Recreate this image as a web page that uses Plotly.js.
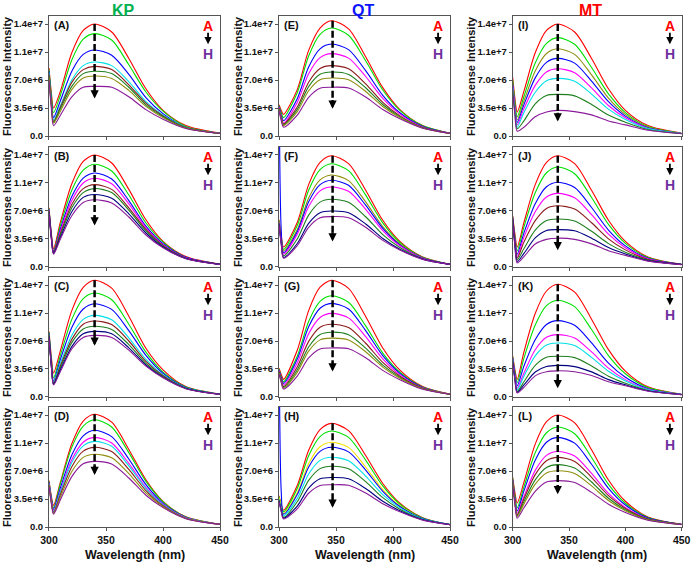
<!DOCTYPE html>
<html>
<head>
<meta charset="utf-8">
<script src="https://cdn.plot.ly/plotly-3.0.1.min.js"></script>
<style>body{margin:0;background:#fff;}</style>
</head>
<body>
<div id="chart" style="width:693px;height:566px;"></div>
<script>
// wavelengths (nm); QT spectra peak a little further right
var wlKP = [300, 302, 304, 310, 320, 330, 340, 355, 370, 385, 400, 420, 450];
var wlQT = [300, 302, 304, 316, 326, 336, 346, 361, 376, 391, 406, 426, 450];
var wlMT = wlKP;

// intensities in units of 1e6, curves A -> H
var panelA = [
  [8.5, 5.5, 3.5, 5.6, 10.4, 13.2, 14.0, 13.0, 9.7, 5.9, 3.2, 1.3, 0.34],
  [8.3, 5.1, 2.9, 5.1, 9.5, 12.1, 12.8, 12.0, 8.9, 5.5, 3.1, 1.2, 0.34],
  [8.1, 4.6, 2.3, 4.4, 8.1, 10.2, 10.75, 10.1, 7.7, 4.8, 2.8, 1.1, 0.33],
  [7.9, 4.4, 2.0, 3.8, 7.0, 8.8, 9.25, 8.8, 6.8, 4.3, 2.6, 1.1, 0.32],
  [7.7, 4.2, 1.8, 3.6, 6.7, 8.3, 8.7, 8.3, 6.4, 4.1, 2.5, 1.05, 0.33],
  [7.5, 4.0, 1.7, 3.4, 6.2, 7.8, 8.1, 7.8, 6.1, 3.9, 2.4, 1.0, 0.32],
  [7.3, 3.9, 1.6, 3.1, 5.8, 7.25, 7.5, 7.2, 5.7, 3.7, 2.3, 1.0, 0.32],
  [7.0, 3.6, 1.3, 2.6, 4.9, 6.1, 6.2, 6.1, 4.9, 3.3, 2.1, 0.95, 0.32]
];
var panelB = [
  [7.4, 4.3, 2.3, 5.6, 10.4, 13.2, 14.0, 13.0, 9.7, 5.9, 3.2, 1.3, 0.34],
  [7.3, 4.1, 2.0, 5.2, 9.6, 12.1, 12.85, 12.0, 9.0, 5.5, 3.1, 1.2, 0.34],
  [7.2, 4.0, 1.9, 4.75, 8.8, 11.1, 11.75, 11.0, 8.3, 5.1, 2.9, 1.2, 0.33],
  [7.1, 3.9, 1.8, 4.5, 8.3, 10.5, 11.1, 10.4, 7.9, 4.9, 2.8, 1.15, 0.33],
  [7.0, 3.9, 1.8, 4.2, 7.8, 9.8, 10.3, 9.7, 7.4, 4.7, 2.7, 1.1, 0.33],
  [6.9, 3.8, 1.7, 4.0, 7.4, 9.3, 9.8, 9.3, 7.1, 4.5, 2.6, 1.1, 0.33],
  [6.8, 3.7, 1.7, 3.7, 6.9, 8.7, 9.07, 8.6, 6.65, 4.25, 2.5, 1.05, 0.33],
  [6.7, 3.6, 1.6, 3.5, 6.4, 8.05, 8.4, 8.0, 6.25, 4.0, 2.4, 1.04, 0.32]
];
var panelC = [
  [8.2, 5.1, 3.0, 5.8, 10.8, 13.7, 14.6, 13.6, 10.1, 6.1, 3.4, 1.3, 0.35],
  [8.1, 4.7, 2.4, 5.2, 9.7, 12.3, 13.0, 12.15, 9.1, 5.6, 3.1, 1.25, 0.35],
  [8.0, 4.4, 2.0, 4.7, 8.7, 11.0, 11.65, 10.95, 8.3, 5.2, 2.95, 1.2, 0.34],
  [7.9, 4.2, 1.8, 4.2, 7.7, 9.7, 10.2, 9.65, 7.4, 4.7, 2.75, 1.14, 0.34],
  [7.8, 4.1, 1.7, 3.9, 7.2, 9.1, 9.5, 9.05, 7.0, 4.45, 2.65, 1.1, 0.34],
  [7.7, 4.0, 1.6, 3.65, 6.8, 8.5, 8.85, 8.45, 6.55, 4.2, 2.55, 1.1, 0.34],
  [7.6, 4.0, 1.6, 3.4, 6.3, 7.9, 8.2, 7.9, 6.15, 4.0, 2.45, 1.06, 0.34],
  [7.5, 3.9, 1.5, 3.2, 6.0, 7.45, 7.7, 7.45, 5.85, 3.85, 2.4, 1.04, 0.33]
];
var panelD = [
  [5.8, 3.9, 2.7, 5.6, 10.4, 13.25, 14.1, 13.1, 9.7, 5.9, 3.2, 1.27, 0.34],
  [5.7, 3.7, 2.4, 5.4, 9.95, 12.6, 13.4, 12.5, 9.3, 5.7, 3.15, 1.25, 0.34],
  [5.6, 3.6, 2.2, 4.9, 9.0, 11.4, 12.1, 11.3, 8.5, 5.3, 2.96, 1.2, 0.33],
  [5.5, 3.4, 2.0, 4.5, 8.4, 10.6, 11.2, 10.5, 7.95, 4.96, 2.84, 1.16, 0.33],
  [5.4, 3.3, 1.9, 4.35, 8.05, 10.15, 10.7, 10.1, 7.65, 4.8, 2.77, 1.13, 0.33],
  [5.3, 3.2, 1.8, 4.06, 7.54, 9.48, 9.96, 9.43, 7.2, 4.55, 2.66, 1.1, 0.33],
  [5.2, 3.1, 1.7, 3.74, 6.93, 8.7, 9.1, 8.66, 6.68, 4.27, 2.54, 1.07, 0.33],
  [5.1, 3.0, 1.6, 3.4, 6.3, 7.9, 8.2, 7.87, 6.13, 3.97, 2.42, 1.04, 0.33]
];
var panelE = [
  [3.9, 3.2, 2.7, 5.8, 10.7, 13.5, 14.4, 13.4, 9.9, 6.05, 3.3, 1.3, 0.35],
  [3.8, 2.9, 2.3, 5.4, 10.0, 12.7, 13.5, 12.6, 9.4, 5.75, 3.2, 1.27, 0.34],
  [3.7, 2.6, 1.9, 4.66, 8.63, 10.9, 11.5, 10.8, 8.17, 5.09, 2.91, 1.19, 0.34],
  [3.6, 2.4, 1.6, 4.2, 7.78, 9.8, 10.3, 9.74, 7.44, 4.7, 2.74, 1.14, 0.34],
  [3.5, 2.3, 1.5, 3.63, 6.73, 8.44, 8.8, 8.4, 6.52, 4.2, 2.52, 1.07, 0.33],
  [3.4, 2.2, 1.4, 3.33, 6.18, 7.71, 8.0, 7.7, 6.03, 3.94, 2.42, 1.04, 0.33],
  [3.3, 2.1, 1.3, 3.04, 5.66, 7.03, 7.25, 7.03, 5.57, 3.69, 2.31, 1.01, 0.33],
  [3.2, 1.9, 1.1, 2.61, 4.84, 5.98, 6.1, 6.0, 4.87, 3.31, 2.15, 0.97, 0.33]
];
var panelF = [
  [5.9, 3.9, 2.5, 5.56, 10.3, 13.07, 13.9, 12.93, 9.6, 5.84, 3.2, 1.25, 0.33],
  [5.8, 3.6, 2.2, 5.18, 9.59, 12.16, 12.9, 12.04, 8.98, 5.51, 3.06, 1.21, 0.33],
  [5.7, 3.5, 2.0, 4.65, 8.61, 10.88, 11.5, 10.8, 8.13, 5.05, 2.87, 1.16, 0.33],
  [25, 4.5, 1.8, 4.4, 8.15, 10.29, 10.85, 10.21, 7.73, 4.83, 2.77, 1.13, 0.33],
  [5.6, 3.2, 1.6, 4.08, 7.56, 9.52, 10.0, 9.46, 7.21, 4.55, 2.65, 1.1, 0.33],
  [5.5, 3.0, 1.4, 3.49, 6.48, 8.11, 8.46, 8.09, 6.28, 4.04, 2.44, 1.03, 0.32],
  [5.4, 2.9, 1.2, 2.94, 5.46, 6.79, 7.0, 6.79, 5.38, 3.56, 2.23, 0.98, 0.32],
  [5.3, 2.8, 1.1, 2.67, 4.96, 6.15, 6.3, 6.16, 4.96, 3.33, 2.13, 0.95, 0.32]
];
var panelG = [
  [3.6, 2.8, 2.2, 5.84, 10.8, 13.72, 14.6, 13.58, 10.07, 6.13, 3.36, 1.31, 0.35],
  [3.5, 2.5, 1.9, 5.1, 9.44, 11.95, 12.65, 11.84, 8.89, 5.49, 3.09, 1.24, 0.34],
  [3.4, 2.4, 1.7, 4.74, 8.78, 11.09, 11.7, 11.0, 8.3, 5.17, 2.95, 1.2, 0.34],
  [3.3, 2.2, 1.5, 4.26, 7.9, 9.94, 10.45, 9.89, 7.54, 4.76, 2.77, 1.15, 0.34],
  [3.2, 2.1, 1.3, 3.75, 6.95, 8.72, 9.1, 8.68, 6.72, 4.32, 2.59, 1.1, 0.34],
  [3.1, 2.0, 1.2, 3.37, 6.25, 7.81, 8.1, 7.79, 6.11, 3.99, 2.45, 1.06, 0.33],
  [3.0, 1.9, 1.1, 3.08, 5.74, 7.14, 7.36, 7.13, 5.66, 3.74, 2.34, 1.02, 0.34],
  [2.9, 1.8, 1.0, 2.62, 4.88, 6.01, 6.13, 6.04, 4.91, 3.33, 2.17, 0.97, 0.34]
];
var panelH = [
  [3.9, 2.8, 2.1, 5.18, 9.59, 12.18, 12.96, 12.05, 8.94, 5.44, 2.98, 1.17, 0.31],
  [3.8, 2.7, 1.9, 4.82, 8.92, 11.31, 12.0, 11.2, 8.36, 5.13, 2.85, 1.13, 0.31],
  [3.7, 2.5, 1.7, 4.29, 7.93, 10.03, 10.6, 9.95, 7.5, 4.66, 2.65, 1.07, 0.3],
  [25, 4.3, 1.6, 4.05, 7.5, 9.46, 9.97, 9.39, 7.12, 4.46, 2.56, 1.05, 0.31],
  [3.5, 2.2, 1.4, 3.57, 6.62, 8.33, 8.72, 8.28, 6.36, 4.04, 2.39, 0.99, 0.3],
  [3.4, 2.1, 1.2, 3.15, 5.83, 7.3, 7.6, 7.28, 5.67, 3.67, 2.23, 0.95, 0.3],
  [3.3, 2.0, 1.1, 2.62, 4.85, 6.02, 6.19, 6.03, 4.81, 3.21, 2.03, 0.9, 0.3],
  [3.2, 1.9, 1.0, 2.26, 4.22, 5.19, 5.28, 5.22, 4.25, 2.91, 1.9, 0.86, 0.3]
];
var panelI = [
  [7.3, 4.7, 3.0, 5.6, 10.4, 13.2, 14.0, 13.0, 9.7, 5.9, 3.2, 1.3, 0.34],
  [7.0, 4.2, 2.4, 4.94, 9.13, 11.59, 12.3, 11.47, 8.56, 5.26, 2.93, 1.18, 0.33],
  [6.8, 3.9, 2.0, 4.39, 8.13, 10.31, 10.9, 10.2, 7.64, 4.74, 2.7, 1.1, 0.32],
  [6.5, 3.6, 1.7, 3.92, 7.27, 9.21, 9.7, 9.11, 6.86, 4.29, 2.49, 1.04, 0.32],
  [6.3, 3.4, 1.4, 3.42, 6.33, 8.01, 8.4, 7.92, 6.02, 3.81, 2.27, 0.98, 0.31],
  [6.0, 3.1, 1.1, 2.95, 5.47, 6.91, 7.2, 6.84, 5.24, 3.36, 2.07, 0.92, 0.31],
  [5.8, 2.9, 0.9, 1.9, 4.03, 5.07, 5.2, 5.02, 3.94, 2.62, 1.73, 0.82, 0.3],
  [5.5, 2.6, 0.6, 1.1, 2.4, 3.0, 3.2, 3.05, 2.64, 1.88, 1.39, 0.72, 0.3]
];
var panelJ = [
  [6.4, 4.1, 2.5, 5.56, 10.29, 13.07, 13.9, 12.93, 9.59, 5.84, 3.2, 1.25, 0.33],
  [6.3, 3.7, 2.0, 5.01, 9.28, 11.78, 12.5, 11.66, 8.69, 5.32, 2.96, 1.19, 0.33],
  [6.2, 3.4, 1.6, 4.27, 7.91, 10.03, 10.6, 9.93, 7.44, 4.62, 2.64, 1.08, 0.32],
  [6.1, 3.2, 1.3, 3.73, 6.9, 8.74, 9.2, 8.65, 6.54, 4.1, 2.4, 1.02, 0.31],
  [6.0, 3.0, 1.1, 3.12, 5.79, 7.32, 7.65, 7.24, 5.53, 3.52, 2.14, 0.94, 0.31],
  [5.9, 2.9, 0.9, 2.3, 4.6, 5.8, 6.0, 5.74, 4.46, 2.92, 1.85, 0.86, 0.3],
  [5.8, 2.7, 0.7, 1.7, 3.64, 4.57, 4.67, 4.52, 3.59, 2.42, 1.62, 0.79, 0.31],
  [5.7, 2.6, 0.5, 1.3, 2.87, 3.45, 3.6, 3.45, 2.89, 2.03, 1.45, 0.73, 0.3]
];
var panelK = [
  [5.1, 3.4, 2.2, 5.64, 10.43, 13.25, 14.1, 13.11, 9.73, 5.92, 3.24, 1.27, 0.34],
  [5.0, 3.1, 1.8, 4.86, 8.99, 11.41, 12.1, 11.29, 8.43, 5.18, 2.9, 1.17, 0.33],
  [4.9, 2.8, 1.4, 3.87, 7.16, 9.07, 9.55, 8.97, 6.77, 4.24, 2.47, 1.04, 0.32],
  [4.8, 2.6, 1.1, 3.0, 5.9, 7.46, 7.8, 7.38, 5.63, 3.6, 2.17, 0.95, 0.32],
  [4.7, 2.4, 0.9, 2.6, 5.15, 6.5, 6.75, 6.43, 4.95, 3.21, 1.99, 0.9, 0.31],
  [4.6, 2.3, 0.7, 1.9, 3.95, 4.97, 5.1, 4.92, 3.88, 2.59, 1.71, 0.82, 0.3],
  [4.5, 2.2, 0.6, 1.5, 3.12, 3.8, 3.95, 3.8, 3.14, 2.17, 1.52, 0.77, 0.29],
  [4.4, 2.1, 0.5, 1.2, 2.64, 3.15, 3.27, 3.15, 2.69, 1.91, 1.4, 0.72, 0.3]
];
var panelL = [
  [6.2, 4.3, 3.0, 5.6, 10.36, 13.16, 14.0, 13.02, 9.66, 5.88, 3.22, 1.26, 0.34],
  [6.1, 3.9, 2.4, 5.02, 9.28, 11.78, 12.5, 11.66, 8.69, 5.33, 2.97, 1.19, 0.33],
  [5.9, 3.6, 2.0, 4.51, 8.35, 10.59, 11.2, 10.48, 7.84, 4.84, 2.75, 1.12, 0.33],
  [5.8, 3.3, 1.7, 3.83, 7.08, 8.96, 9.44, 8.87, 6.69, 4.19, 2.44, 1.03, 0.32],
  [5.7, 3.2, 1.5, 3.53, 6.55, 8.29, 8.7, 8.2, 6.21, 3.92, 2.32, 0.99, 0.32],
  [5.6, 3.1, 1.4, 3.18, 5.89, 7.45, 7.8, 7.37, 5.63, 3.59, 2.16, 0.95, 0.31],
  [5.5, 3.0, 1.3, 2.89, 5.35, 6.76, 7.04, 6.69, 5.14, 3.31, 2.04, 0.91, 0.31],
  [5.3, 2.8, 1.1, 2.4, 4.45, 5.61, 5.8, 5.55, 4.33, 2.85, 1.82, 0.85, 0.3]
];

var panels = [panelA, panelB, panelC, panelD, panelE, panelF, panelG, panelH, panelI, panelJ, panelK, panelL];
var panelNames = ['A', 'B', 'C', 'D', 'E', 'F', 'G', 'H', 'I', 'J', 'K', 'L'];
var groups = ['KP', 'QT', 'MT'];
var groupWl = [wlKP, wlQT, wlMT];

var RED = '#ff0000', GRN = '#00e000', BLU = '#0000ff', CYN = '#00e0e8', MAG = '#ff00ff',
    BRN = '#8b1c1c', DGR = '#1f7f1f', OLV = '#8f8f10', NAV = '#000080', PUR = '#8a1a9a', YEL = '#f2e200';
var panelColors = [
  [RED, GRN, BLU, CYN, BRN, DGR, OLV, PUR],
  [RED, GRN, BLU, MAG, BRN, DGR, NAV, PUR],
  [RED, GRN, BLU, CYN, BRN, DGR, NAV, PUR],
  [RED, GRN, BLU, MAG, CYN, BRN, OLV, PUR],
  [RED, GRN, BLU, MAG, BRN, DGR, OLV, PUR],
  [RED, GRN, OLV, BLU, MAG, DGR, NAV, PUR],
  [RED, GRN, BLU, MAG, BRN, DGR, OLV, PUR],
  [RED, GRN, YEL, BLU, CYN, DGR, NAV, PUR],
  [RED, GRN, OLV, BLU, MAG, CYN, DGR, PUR],
  [RED, GRN, BLU, MAG, BRN, DGR, NAV, PUR],
  [RED, GRN, BLU, MAG, CYN, DGR, NAV, PUR],
  [RED, GRN, BLU, MAG, BRN, DGR, OLV, PUR]
];

// dashed quenching arrow: wavelength, start and tip (1e6)
var arrowWl = [340, 347, 340];
var arrowTop = [14.0, 14.0, 14.6, 14.1, 14.4, 13.9, 14.6, 12.96, 14.0, 13.9, 14.1, 14.0];
var arrowTip = [4.7, 5.2, 6.4, 6.5, 3.4, 3.2, 3.2, 2.4, 1.8, 2.1, 1.1, 4.1];

var yTickVals = [0, 3.5, 7, 10.5, 14];
var yTickText = ['0.0', '3.5e+6', '7.0e+6', '1.1e+7', '1.4e+7'];
var xTickVals = [300, 350, 400, 450];

var colDom = [[0.0707, 0.3175], [0.4026, 0.6494], [0.7398, 0.9837]];
var rowDom = [[0.7597, 0.9717], [0.5283, 0.7403], [0.2986, 0.5106], [0.0689, 0.2809]];

var FONT = 'Liberation Sans, Arial, sans-serif';
var data = [];
var layout = {
  width: 693, height: 566, autosize: false,
  margin: {l: 0, r: 0, t: 0, b: 0},
  paper_bgcolor: '#fff', plot_bgcolor: '#fff',
  showlegend: false,
  font: {family: FONT, color: '#111'},
  shapes: [], annotations: []
};

for (var k = 0; k < 12; k++) {
  var col = Math.floor(k / 4), row = k % 4;
  var sfx = k === 0 ? '' : String(k + 1);
  var xa = 'x' + sfx, ya = 'y' + sfx;
  var curves = panels[k];
  for (var c = 0; c < curves.length; c++) {
    data.push({
      x: groupWl[col], y: curves[c], xaxis: xa, yaxis: ya,
      type: 'scatter', mode: 'lines',
      line: {color: panelColors[k][c], width: 1.1, shape: 'spline', smoothing: 0.8},
      hoverinfo: 'skip'
    });
  }
  layout['xaxis' + sfx] = {
    domain: colDom[col], anchor: ya, range: [300, 450],
    tickvals: xTickVals, showticklabels: row === 3,
    ticks: 'outside', ticklen: 3, tickcolor: '#555',
    tickfont: {size: 10.5, weight: 'bold', color: '#111'},
    showgrid: false, zeroline: false,
    showline: true, linecolor: '#555', linewidth: 1, mirror: true
  };
  layout['yaxis' + sfx] = {
    domain: rowDom[row], anchor: xa, range: [0, 15],
    tickvals: yTickVals, ticktext: yTickText,
    ticks: 'outside', ticklen: 3, tickcolor: '#555',
    tickfont: {size: 9.5, weight: 'bold', color: '#111'},
    showgrid: false, zeroline: false,
    showline: true, linecolor: '#555', linewidth: 1, mirror: true
  };
  // dashed arrow
  layout.shapes.push({
    type: 'line', xref: xa, yref: ya,
    x0: arrowWl[col], x1: arrowWl[col], y0: arrowTop[k], y1: arrowTip[k] + 1.0,
    line: {color: '#000', width: 2.5, dash: '7px,3px'}
  });
  layout.annotations.push({
    xref: xa, yref: ya, axref: xa, ayref: ya,
    x: arrowWl[col], y: arrowTip[k], ax: arrowWl[col], ay: arrowTip[k] + 1.3,
    showarrow: true, arrowhead: 2, arrowsize: 0.75, arrowwidth: 2.2, arrowcolor: '#000', text: ''
  });
  // panel label
  layout.annotations.push({
    xref: xa + ' domain', yref: ya + ' domain', x: 0.02, y: 0.925,
    xanchor: 'left', yanchor: 'middle', showarrow: false,
    text: '<b>(' + panelNames[k] + ')</b>', font: {size: 11, color: '#111'}
  });
  // A -> H marker
  layout.annotations.push({
    xref: xa + ' domain', yref: ya + ' domain', x: 0.93, y: 0.915,
    xanchor: 'center', yanchor: 'middle', showarrow: false,
    text: '<b>A</b>', font: {size: 14, color: '#ff0000'}
  });
  layout.annotations.push({
    xref: xa + ' domain', yref: ya + ' domain', x: 0.93, y: 0.765,
    axref: 'pixel', ayref: 'pixel', ax: 0, ay: -13,
    showarrow: true, arrowhead: 2, arrowsize: 0.8, arrowwidth: 1.8, arrowcolor: '#000', text: ''
  });
  layout.annotations.push({
    xref: xa + ' domain', yref: ya + ' domain', x: 0.93, y: 0.68,
    xanchor: 'center', yanchor: 'middle', showarrow: false,
    text: '<b>H</b>', font: {size: 14, color: '#7030a0'}
  });
  // y title
  var yTitleX = [7, 238, 471][col] / 693;
  layout.annotations.push({
    xref: 'paper', yref: 'paper', x: yTitleX, y: (rowDom[row][0] + rowDom[row][1]) / 2,
    xanchor: 'center', yanchor: 'middle', textangle: -90, showarrow: false,
    text: '<b>Fluorescense Intensity</b>', font: {size: 11, color: '#111'}
  });
  if (row === 3) {
    layout.annotations.push({
      xref: 'paper', yref: 'paper', x: (colDom[col][0] + colDom[col][1]) / 2, y: 11 / 566,
      xanchor: 'center', yanchor: 'middle', showarrow: false,
      text: '<b>Wavelength (nm)</b>', font: {size: 12.5, color: '#111'}
    });
  }
}

var groupColors = ['#00b050', '#0a14ff', '#ff0000'];
var groupX = [123, 363, 590];
for (var g = 0; g < 3; g++) {
  layout.annotations.push({
    xref: 'paper', yref: 'paper', x: groupX[g] / 693, y: 1 - 10 / 566,
    xanchor: 'center', yanchor: 'middle', showarrow: false,
    text: '<b>' + groups[g] + '</b>', font: {size: 16, color: groupColors[g]}
  });
}

Plotly.newPlot('chart', data, layout, {displayModeBar: false, staticPlot: true});
</script>
</body>
</html>
